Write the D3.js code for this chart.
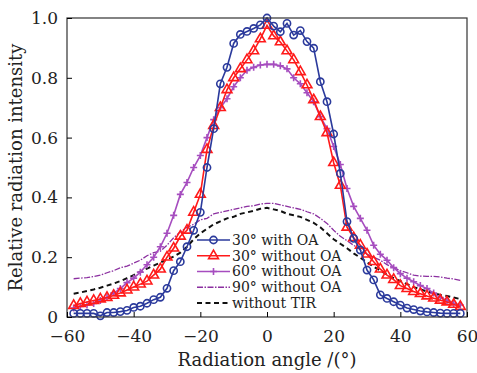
<!DOCTYPE html>
<html>
<head>
<meta charset="utf-8">
<script src="https://cdn.jsdelivr.net/npm/d3@7"></script>
<style>
  body { margin: 0; background: #fff; }
  svg text { font-family: "DejaVu Serif", "Liberation Serif", serif; fill: #222; }
</style>
</head>
<body>
<div id="chart"></div>
<script>
// angles sampled every 2 degrees
const angles = d3.range(-58, 59, 2)

// 30 deg with OA
const withOA30 = [0.012, 0.012, 0.012, 0.012, 0.004, 0.015, 0.015, 0.018, 0.022, 0.032,
  0.036, 0.046, 0.058, 0.066, 0.096, 0.155, 0.185, 0.235, 0.29, 0.35,
  0.50, 0.63, 0.78, 0.835, 0.915, 0.945, 0.955, 0.965, 0.977, 1.0,
  0.973, 0.954, 0.982, 0.943, 0.958, 0.921, 0.899, 0.787, 0.72, 0.612,
  0.48, 0.319, 0.263, 0.224, 0.157, 0.124, 0.074, 0.062, 0.051, 0.04,
  0.03, 0.025, 0.02, 0.017, 0.015, 0.013, 0.012, 0.012, 0.012]

// 30 deg without OA
const without30 = [0.038, 0.045, 0.05, 0.055, 0.06, 0.065, 0.072, 0.08, 0.09, 0.1,
  0.11, 0.12, 0.14, 0.16, 0.2, 0.23, 0.27, 0.29, 0.35, 0.41,
  0.56, 0.64, 0.70, 0.76, 0.80, 0.83, 0.86, 0.89, 0.93, 0.975,
  0.94, 0.92, 0.89, 0.86, 0.82, 0.776, 0.726, 0.67, 0.616, 0.516,
  0.44, 0.30, 0.265, 0.24, 0.21, 0.185, 0.16, 0.14, 0.125, 0.105,
  0.095, 0.085, 0.078, 0.07, 0.063, 0.056, 0.05, 0.042, 0.035]

// 60 deg without OA
const without60 = [0.03, 0.035, 0.04, 0.045, 0.055, 0.065, 0.08, 0.095, 0.115, 0.13,
  0.15, 0.175, 0.2, 0.235, 0.28, 0.34, 0.41, 0.45, 0.5, 0.54,
  0.6, 0.66, 0.70, 0.73, 0.77, 0.80, 0.825, 0.835, 0.843, 0.845,
  0.845, 0.84, 0.83, 0.80, 0.78, 0.75, 0.72, 0.67, 0.63, 0.57,
  0.51, 0.43, 0.37, 0.33, 0.29, 0.24, 0.21, 0.19, 0.165, 0.145,
  0.13, 0.118, 0.105, 0.095, 0.08, 0.065, 0.055, 0.045, 0.04]

// 90 deg without OA
const without90 = [0.128, 0.13, 0.132, 0.135, 0.14, 0.148, 0.155, 0.165, 0.17, 0.18,
  0.19, 0.205, 0.215, 0.22, 0.24, 0.265, 0.285, 0.30, 0.31, 0.325,
  0.33, 0.345, 0.35, 0.355, 0.36, 0.365, 0.37, 0.372, 0.378, 0.38,
  0.38, 0.375, 0.37, 0.365, 0.36, 0.352, 0.345, 0.33, 0.313, 0.29,
  0.27, 0.255, 0.24, 0.225, 0.21, 0.2, 0.19, 0.175, 0.165, 0.155,
  0.148, 0.14, 0.137, 0.136, 0.136, 0.134, 0.13, 0.127, 0.122]

// without TIR
const withoutTIR = [0.078, 0.082, 0.087, 0.092, 0.098, 0.105, 0.112, 0.12, 0.13, 0.14,
  0.152, 0.162, 0.172, 0.182, 0.192, 0.202, 0.215, 0.235, 0.26, 0.28,
  0.295, 0.31, 0.32, 0.33, 0.335, 0.345, 0.35, 0.355, 0.362, 0.365,
  0.36, 0.355, 0.345, 0.34, 0.335, 0.325, 0.315, 0.3, 0.28, 0.26,
  0.245, 0.23, 0.213, 0.198, 0.183, 0.168, 0.155, 0.142, 0.13, 0.12,
  0.11, 0.1, 0.093, 0.085, 0.08, 0.074, 0.07, 0.065, 0.06]

const xTicks = [-60, -40, -20, 0, 20, 40, 60]
const yTicks = [0, 0.2, 0.4, 0.6, 0.8, 1.0]
const yTickLabels = ["0", "0.2", "0.4", "0.6", "0.8", "1.0"]

const width = 477
const height = 373
const margin = {top: 18, right: 10, bottom: 56, left: 67}
const serif = "'DejaVu Serif', 'Liberation Serif', serif"

const svg = d3.select("#chart")
    .append("svg")
    .attr("width", width)
    .attr("height", height)

const x = d3.scaleLinear().domain([-60, 60]).range([margin.left, width - margin.right])
const y = d3.scaleLinear().domain([0, 1]).range([height - margin.bottom, margin.top])

// series setup
const series = [
    {name: "30° with OA", values: withOA30, color: "#2b3a9c", marker: "circle", dash: null, width: 1.6},
    {name: "30° without OA", values: without30, color: "#ff1a1a", marker: "triangle", dash: null, width: 1.6},
    {name: "60° without OA", values: without60, color: "#a64dbf", marker: "plus", dash: null, width: 1.6},
    {name: "90° without OA", values: without90, color: "#8b2fa0", marker: null, dash: "6,1.5,1.5,1.5", width: 1.3},
    {name: "without TIR", values: withoutTIR, color: "#111", marker: null, dash: "5,3.5", width: 2}
]

const line = d3.line()
    .x(d => x(d[0]))
    .y(d => y(d[1]))

// draw order: dashed lines behind, blue on top
const drawOrder = [4, 3, 2, 1, 0]

function drawMarker(sel, type, color) {
    if (type === "circle") {
        sel.append("circle").attr("r", 3.6)
            .attr("fill", "none").attr("stroke", color).attr("stroke-width", 1.6)
    } else if (type === "triangle") {
        sel.append("path").attr("d", d3.symbol().type(d3.symbolTriangle).size(42)())
            .attr("fill", "none").attr("stroke", color).attr("stroke-width", 1.6)
    } else if (type === "plus") {
        sel.append("path").attr("d", "M-3.5,0H3.5M0,-3.5V3.5")
            .attr("stroke", color).attr("stroke-width", 1.6)
    }
}

const plot = svg.append("g")

drawOrder.forEach(i => {
    const s = series[i]
    const pts = angles.map((a, j) => [a, s.values[j]])
    plot.append("path")
        .datum(pts)
        .attr("d", line)
        .attr("fill", "none")
        .attr("stroke", s.color)
        .attr("stroke-width", s.width)
        .attr("stroke-dasharray", s.dash)
    if (s.marker) {
        plot.selectAll(".m" + i)
            .data(pts)
            .join("g")
            .attr("class", "m" + i)
            .attr("transform", d => `translate(${x(d[0])},${y(d[1])})`)
            .each(function() { drawMarker(d3.select(this), s.marker, s.color) })
    }
})

// frame
svg.append("rect")
    .attr("x", margin.left)
    .attr("y", margin.top)
    .attr("width", width - margin.right - margin.left)
    .attr("height", height - margin.bottom - margin.top)
    .attr("fill", "none")
    .attr("stroke", "#333")
    .attr("stroke-width", 1.2)

// axes with inward ticks
const xAxis = svg.append("g")
    .attr("transform", `translate(0,${height - margin.bottom})`)
    .call(d3.axisBottom(x).tickValues(xTicks).tickSize(-5).tickPadding(13)
        .tickFormat(d => d < 0 ? "\u2212" + Math.abs(d) : d))
xAxis.attr("font-family", serif)
xAxis.select(".domain").remove()
xAxis.selectAll("text").attr("font-size", 17).attr("fill", "#222")

const yAxis = svg.append("g")
    .attr("transform", `translate(${margin.left},0)`)
    .call(d3.axisLeft(y).tickValues(yTicks).tickSize(-5).tickPadding(9)
        .tickFormat((d, i) => yTickLabels[i]))
yAxis.attr("font-family", serif)
yAxis.select(".domain").remove()
yAxis.selectAll("text").attr("font-size", 17).attr("fill", "#222")

// axis titles
svg.append("text")
    .attr("x", (margin.left + width - margin.right) / 2)
    .attr("y", 366)
    .attr("text-anchor", "middle")
    .attr("font-family", serif)
    .attr("font-size", 18)
    .text("Radiation angle /(°)")

svg.append("text")
    .attr("transform", `translate(22,${(margin.top + height - margin.bottom) / 2}) rotate(-90)`)
    .attr("text-anchor", "middle")
    .attr("font-family", serif)
    .attr("font-size", 18)
    .text("Relative radiation intensity")

// legend
const legend = svg.append("g").attr("transform", "translate(197,240)")
series.forEach((s, i) => {
    const row = legend.append("g").attr("transform", `translate(0,${i * 15.75})`)
    row.append("line")
        .attr("x1", 0).attr("x2", 33)
        .attr("stroke", s.color)
        .attr("stroke-width", s.width)
        .attr("stroke-dasharray", s.dash)
    if (s.marker) {
        const m = row.append("g").attr("transform", "translate(16.5,0)")
        drawMarker(m, s.marker, s.color)
    }
    row.append("text")
        .attr("x", 35)
        .attr("dy", "0.35em")
        .attr("font-family", serif)
        .attr("font-size", 14)
        .text(s.name)
})
</script>
</body>
</html>
